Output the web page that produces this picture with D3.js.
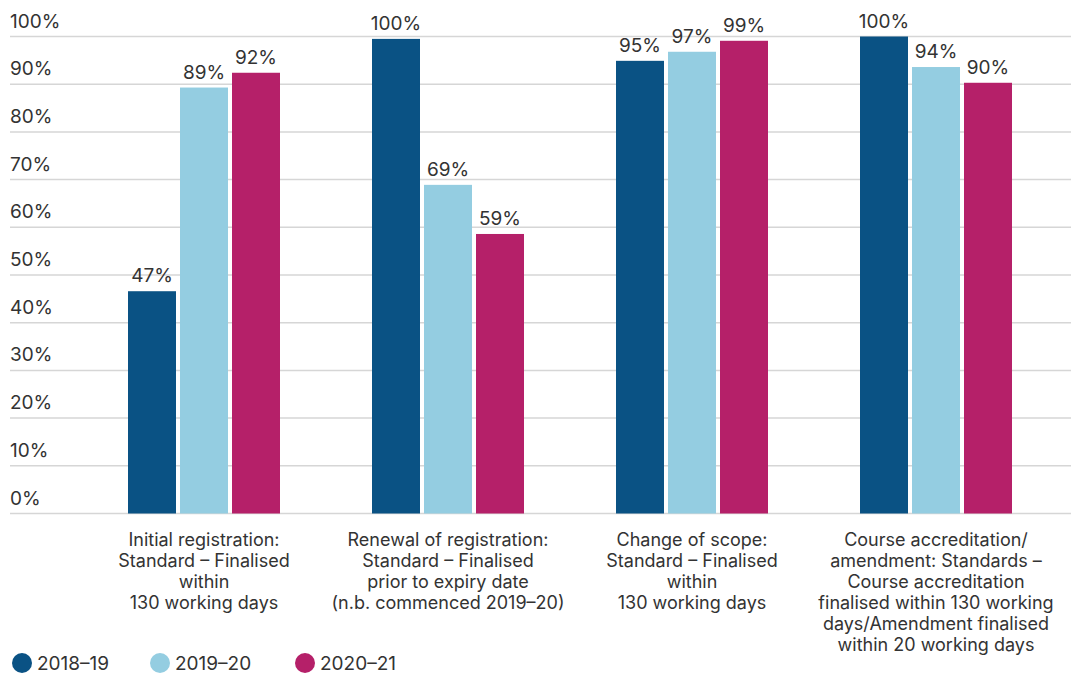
<!DOCTYPE html>
<html>
<head>
<meta charset="utf-8">
<script src="https://cdn.jsdelivr.net/npm/d3@7"></script>
<style>
  html, body { margin: 0; padding: 0; background: #fff; }
  svg { display: block; }
  text { font-family: Inter, "Noto Sans", sans-serif; fill: #333; }
</style>
</head>
<body>
<svg id="chart" width="1071" height="674"></svg>
<script>
// Categories (label lines) and yearly results, in per cent
const categories = [
  ["Initial registration:", "Standard – Finalised", "within", "130 working days"],
  ["Renewal of registration:", "Standard – Finalised", "prior to expiry date", "(n.b. commenced 2019–20)"],
  ["Change of scope:", "Standard – Finalised", "within", "130 working days"],
  ["Course accreditation/", "amendment: Standards –", "Course accreditation", "finalised within 130 working", "days/Amendment finalised", "within 20 working days"]
];
const series = ["2018–19", "2019–20", "2020–21"];
const values2018 = [46.6, 99.5, 94.9, 100];
const values2019 = [89.3, 68.9, 96.8, 93.6];
const values2020 = [92.4, 58.6, 99.1, 90.3];
const yTicks = [0, 10, 20, 30, 40, 50, 60, 70, 80, 90, 100];
const colors = ["#0a5284", "#94cde1", "#b52069"];

const seriesValues = [values2018, values2019, values2020];
const catKeys = categories.map((c, i) => i);

const svg = d3.select("#chart");

const y = d3.scaleLinear().domain([0, 100]).range([513.5, 36.5]);
const x0 = d3.scaleBand().domain(catKeys).range([82, 1058]);
const x1 = d3.scaleBand().domain(series).range([46, 198]).paddingInner(4 / 52);

// Gridlines with labels sitting above each line
const grid = svg.append("g");
grid.selectAll("line").data(yTicks).join("line")
  .attr("x1", 10).attr("x2", 1071)
  .attr("y1", d => y(d)).attr("y2", d => y(d))
  .attr("stroke", "#d6d6d6").attr("stroke-width", 1.5);
grid.selectAll("text").data(yTicks).join("text")
  .attr("x", 10).attr("y", d => y(d) - 9)
  .attr("font-size", 19)
  .text(d => d + "%");

// Bars
const groups = svg.append("g").selectAll("g").data(catKeys).join("g")
  .attr("transform", d => `translate(${x0(d)},0)`);

groups.selectAll("rect")
  .data(ci => series.map((s, si) => ({ s, si, v: seriesValues[si][ci] })))
  .join("rect")
  .attr("x", d => x1(d.s))
  .attr("width", x1.bandwidth())
  .attr("y", d => y(d.v))
  .attr("height", d => y(0) - y(d.v))
  .attr("fill", d => colors[d.si]);

groups.selectAll("text.val")
  .data(ci => series.map((s, si) => ({ s, si, v: seriesValues[si][ci] })))
  .join("text")
  .attr("class", "val")
  .attr("x", d => x1(d.s) + x1.bandwidth() / 2)
  .attr("y", d => y(d.v) - 9)
  .attr("text-anchor", "middle")
  .attr("font-size", 19)
  .text(d => Math.round(d.v) + "%");

// Category labels
groups.append("text")
  .attr("text-anchor", "middle")
  .attr("font-size", 18)
  .each(function (ci) {
    const t = d3.select(this);
    categories[ci].forEach((line, li) => {
      t.append("tspan")
        .attr("x", x0.bandwidth() / 2)
        .attr("y", 546 + li * 21)
        .text(line);
    });
  });

// Legend
const legendX = [22, 160, 305];
const legend = svg.append("g").selectAll("g").data(series).join("g")
  .attr("transform", (d, i) => `translate(${legendX[i]},663)`);
legend.append("circle").attr("r", 10).attr("fill", (d, i) => colors[i]);
legend.append("text").attr("x", 15).attr("y", 7).attr("font-size", 19).text(d => d);
</script>
</body>
</html>
